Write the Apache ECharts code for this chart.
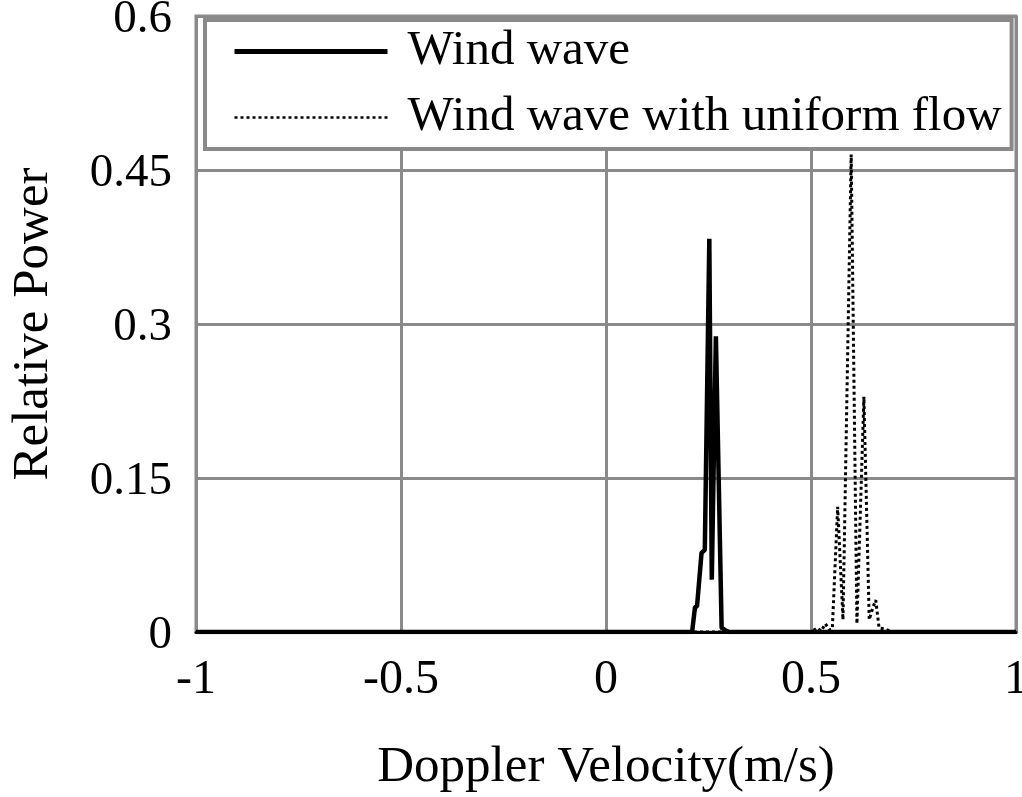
<!DOCTYPE html>
<html>
<head>
<meta charset="utf-8">
<title>Doppler spectrum</title>
<script src="https://cdn.jsdelivr.net/npm/echarts@6/dist/echarts.min.js"></script>
<style>
    html, body { margin: 0; padding: 0; background: #fff; }
    #main { width: 1022px; height: 797px; }
</style>
</head>
<body>
<div id="main"></div>
<script>
var xTicks = [-1, -0.5, 0, 0.5, 1];
var yTicks = [0, 0.15, 0.3, 0.45, 0.6];

// Wind wave
var windX = [-1, 0.21, 0.217, 0.222, 0.233, 0.241, 0.252, 0.258, 0.268, 0.282, 0.29, 0.3, 1];
var windY = [0, 0, 0.024, 0.025, 0.077, 0.08, 0.383, 0.051, 0.288, 0.004, 0.002, 0, 0];

// Wind wave with uniform flow
var flowX = [-1, 0.5, 0.515, 0.525, 0.535, 0.545, 0.552, 0.565, 0.578, 0.598, 0.612, 0.629, 0.642, 0.652, 0.658, 0.666, 0.68, 0.7, 1];
var flowY = [0, 0, 0.004, 0.001, 0.008, 0.002, 0.003, 0.122, 0.012, 0.465, 0.008, 0.229, 0.012, 0.025, 0.031, 0.004, 0.003, 0, 0];

function pairs(xs, ys) {
    var out = [];
    for (var i in xs) {
        out.push([xs[i], ys[i]]);
    }
    return out;
}

var serif = 'Liberation Serif';
var gridGray = '#8a8a8a';

var myChart = echarts.init(document.getElementById('main'));
var option = {
    animation: false,
    grid: {
        left: 196,
        top: 16,
        right: 6,
        bottom: 165,
        outerBoundsMode: 'none',
        show: true,
        borderColor: gridGray,
        borderWidth: 3
    },
    legend: {
        orient: 'vertical',
        left: 205,
        top: 20,
        padding: [7, 10, 7, 27],
        itemGap: 17,
        itemWidth: 153,
        itemHeight: 20,
        backgroundColor: '#fff',
        borderColor: gridGray,
        borderWidth: 4,
        itemStyle: { opacity: 0 },
        textStyle: {
            fontFamily: serif,
            fontSize: 49,
            lineHeight: 48,
            color: '#000',
            padding: [0, 0, 0, 15]
        },
        data: [
            { name: 'Wind wave', lineStyle: { width: 5 } },
            { name: 'Wind wave with uniform flow', lineStyle: { width: 2.5 } }
        ]
    },
    xAxis: {
        type: 'value',
        min: xTicks[0],
        max: xTicks[xTicks.length - 1],
        interval: xTicks[1] - xTicks[0],
        name: 'Doppler Velocity(m/s)',
        nameLocation: 'middle',
        nameGap: 110,
        nameTextStyle: {
            fontFamily: serif,
            fontSize: 51,
            color: '#000'
        },
        axisLine: { lineStyle: { color: '#000', width: 3 } },
        axisTick: { show: false },
        axisLabel: {
            margin: 24,
            fontFamily: serif,
            fontSize: 48,
            color: '#000'
        },
        splitLine: { show: true, lineStyle: { color: gridGray, width: 3 } }
    },
    yAxis: {
        type: 'value',
        min: yTicks[0],
        max: yTicks[yTicks.length - 1],
        interval: yTicks[1] - yTicks[0],
        name: 'Relative Power',
        nameLocation: 'middle',
        nameGap: 137,
        nameTextStyle: {
            fontFamily: serif,
            fontSize: 51,
            color: '#000'
        },
        axisLine: { show: false },
        axisTick: { show: false },
        axisLabel: {
            margin: 24,
            color: '#000',
            formatter: function (v) {
                return '{v|' + v + '}';
            },
            rich: {
                v: {
                    fontFamily: serif,
                    fontSize: 47,
                    color: '#000',
                    padding: [8, 0, 0, 0]
                }
            }
        },
        splitLine: { show: true, lineStyle: { color: gridGray, width: 3 } }
    },
    series: [{
        name: 'Wind wave',
        type: 'line',
        symbol: 'none',
        z: 3,
        lineStyle: { color: '#000', width: 4.5 },
        itemStyle: { color: '#000' },
        data: pairs(windX, windY)
    }, {
        name: 'Wind wave with uniform flow',
        type: 'line',
        symbol: 'none',
        z: 2,
        lineStyle: { color: '#000', width: 3, type: [3, 3] },
        itemStyle: { color: '#000' },
        data: pairs(flowX, flowY)
    }]
};
myChart.setOption(option);
</script>
</body>
</html>
